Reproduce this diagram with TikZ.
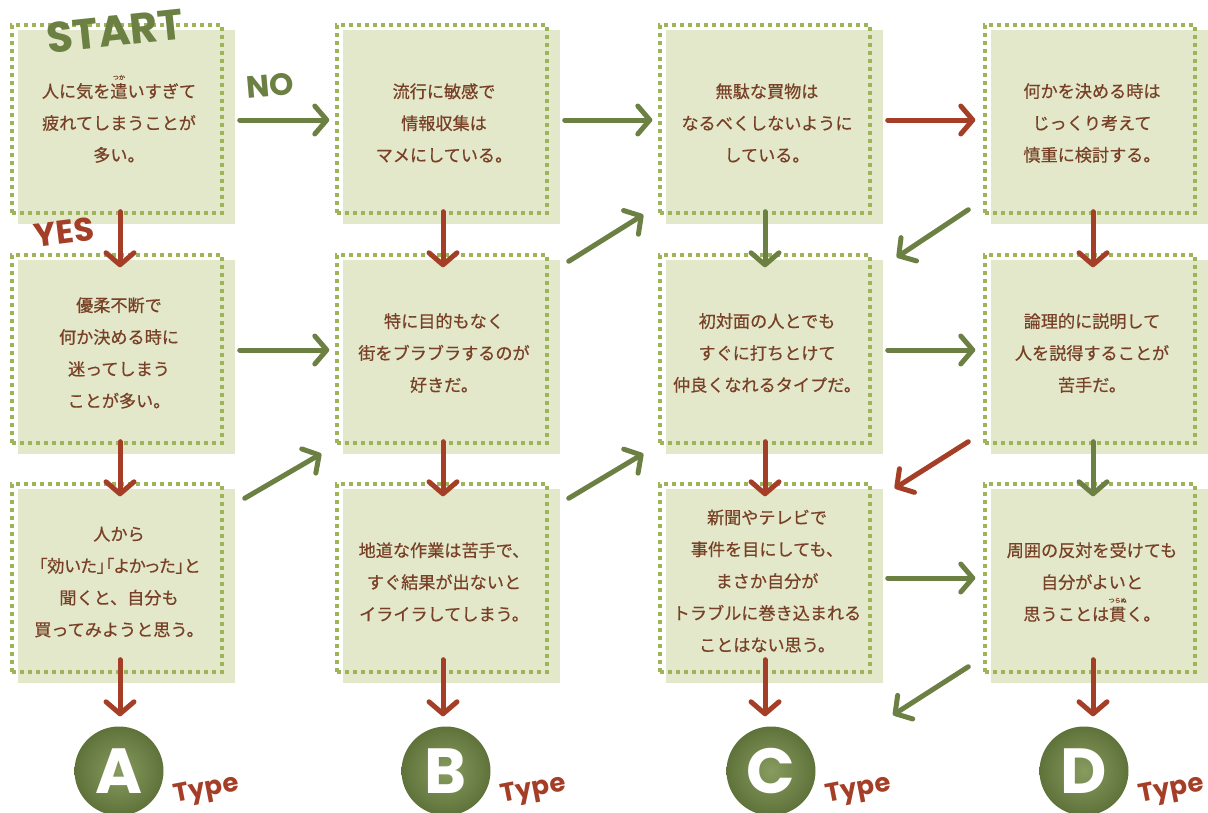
\documentclass[tikz,border=0pt]{standalone}
\usepackage{fontspec}
\setmainfont{Noto Sans CJK JP}[FakeBold=0.5]
\newfontfamily\latinfont{Poppins}
\usetikzlibrary{arrows.meta,backgrounds}
\definecolor{boxfill}{RGB}{226,232,201}
\definecolor{dotcol}{RGB}{158,180,88}
\definecolor{leafgreen}{RGB}{108,128,68}
\definecolor{rust}{RGB}{165,62,38}
\definecolor{inkbrown}{RGB}{120,64,38}
\definecolor{ballhi}{RGB}{136,156,96}
\definecolor{balllo}{RGB}{94,114,58}
\newcommand\furigana[2]{\leavevmode\ooalign{#1\cr\hidewidth\raisebox{1.05em}{\fontsize{6}{6}\selectfont #2}\hidewidth\cr}}
\begin{document}
\begin{tikzpicture}[x=1bp,y=-1bp,>={Straight Barb[length=12bp,width=28bp,round]},
  qbox/.style={draw=dotcol,line width=3.4bp,dash pattern=on 4bp off 4bp,minimum width=210bp,minimum height=188bp,inner sep=0pt},
  qtext/.style={inner sep=0pt,align=center,text=inkbrown,font=\fontsize{17.2}{32}\selectfont},
  goarrow/.style={->,line width=5bp,line cap=round,leafgreen},
  yesarrow/.style={->,line width=5bp,line cap=round,rust},
  typeball/.style={circle,minimum size=89bp,inner sep=0pt,inner color=ballhi,outer color=balllo,text=white,font=\latinfont\bfseries\fontsize{64}{64}\selectfont},
  typetag/.style={rust,rotate=11,font=\latinfont\bfseries\fontsize{26}{26}\selectfont},
  bigword/.style={font=\latinfont\bfseries\fontsize{#1}{#1}\selectfont},
  ]
  \useasboundingbox (0,0) rectangle (1208,813);
%%
  % Node: column A
  \node[qbox] (a1) at (117,119) {};
  \node[qbox] (a2) at (117,349) {};
  \node[qbox] (a3) at (117,578) {};
  % Node: column B
  \node[qbox] (b1) at (442,119) {};
  \node[qbox] (b2) at (442,349) {};
  \node[qbox] (b3) at (442,578) {};
  % Node: column C
  \node[qbox] (c1) at (765,119) {};
  \node[qbox] (c2) at (765,349) {};
  \node[qbox] (c3) at (765,578) {};
  % Node: column D
  \node[qbox] (d1) at (1090,119) {};
  \node[qbox] (d2) at (1090,349) {};
  \node[qbox] (d3) at (1090,578) {};
\begin{scope}[on background layer]
  \foreach \n in {a1,a2,a3,b1,b2,b3,c1,c2,c3,d1,d2,d3}
    \fill[boxfill] ([shift={(8,7)}]\n.north west) rectangle ([shift={(11,9)}]\n.south east);
\end{scope}
  % Node: questions
  \node[qtext] (a1q) at ([shift={(2,4)}]a1.center) {人に気を\furigana{遣}{つか}いすぎて\\疲れてしまうことが\\多い。};
  \node[qtext] (a2q) at ([shift={(2,4)}]a2.center) {優柔不断で\\何か決める時に\\迷ってしまう\\ことが多い。};
  \node[qtext] (a3q) at ([shift={(2,4)}]a3.center) {人から\\{\addfontfeatures{RawFeature=+palt}「効いた」「よかった」と}\\聞くと、自分も\\買ってみようと思う。};
  \node[qtext] (b1q) at ([shift={(2,4)}]b1.center) {流行に敏感で\\情報収集は\\マメにしている。};
  \node[qtext] (b2q) at ([shift={(2,4)}]b2.center) {特に目的もなく\\街をブラブラするのが\\好きだ。};
  \node[qtext] (b3q) at ([shift={(2,4)}]b3.center) {地道な作業は苦手で、\\すぐ結果が出ないと\\イライラしてしまう。};
  \node[qtext] (c1q) at ([shift={(2,4)}]c1.center) {無駄な買物は\\なるべくしないように\\している。};
  \node[qtext] (c2q) at ([shift={(2,4)}]c2.center) {初対面の人とでも\\すぐに打ちとけて\\仲良くなれるタイプだ。};
  \node[qtext] (c3q) at ([shift={(2,3)}]c3.center) {新聞やテレビで\\事件を目にしても、\\まさか自分が\\トラブルに巻き込まれる\\ことはない思う。};
  \node[qtext] (d1q) at ([shift={(2,4)}]d1.center) {何かを決める時は\\じっくり考えて\\慎重に検討する。};
  \node[qtext] (d2q) at ([shift={(2,4)}]d2.center) {論理的に説明して\\人を説得することが\\苦手だ。};
  \node[qtext] (d3q) at ([shift={(2,4)}]d3.center) {周囲の反対を受けても\\自分がよいと\\思うことは\furigana{貫}{つらぬ}く。};
  % Node: results
  \node[typeball] (typeA) at (119,771) {A};
  \node[typeball] (typeB) at (446,771) {B};
  \node[typeball] (typeC) at (771,771) {C};
  \node[typeball] (typeD) at (1084,771) {D};
  \foreach \t in {A,B,C,D}
    \node[typetag] (tag\t) at ([shift={(43,20)}]type\t.east) {Type};
  \coordinate (cback) at (893,715);
  % Node: labels
  \node[bigword=43,leafgreen,rotate=6] (start) at (115,31) {START};
  \node[bigword=31,leafgreen,rotate=5] (nolabel) at (270,86) {NO};
  \node[bigword=33,rust,rotate=7] (yeslabel) at (64,232) {YES};
%%
  % Edge: row 1
  \draw[goarrow] ([shift={(16,1)}]a1.east) -- ([shift={(-6,1)}]b1.west);
  \draw[goarrow] ([shift={(16,1)}]b1.east) -- ([shift={(-6,1)}]c1.west);
  \draw[yesarrow] ([shift={(16,1)}]c1.east) -- ([shift={(-8,1)}]d1.west);
  % Edge: row 2
  \draw[goarrow] ([shift={(16,1)}]a2.east) -- ([shift={(-6,1)}]b2.west);
  \draw[goarrow] ([shift={(16,1)}]c2.east) -- ([shift={(-8,1)}]d2.west);
  % Edge: row 3
  \draw[goarrow] ([shift={(16,0)}]c3.east) -- ([shift={(-8,0)}]d3.west);
  % Edge: downwards
  \draw[yesarrow] ([shift={(3,-3)}]a1.south) -- ([shift={(3,14)}]a2.north);
  \draw[yesarrow] ([shift={(1,-3)}]b1.south) -- ([shift={(1,14)}]b2.north);
  \draw[goarrow] ([shift={(0,-3)}]c1.south) -- ([shift={(0,14)}]c2.north);
  \draw[yesarrow] ([shift={(3,-3)}]d1.south) -- ([shift={(3,14)}]d2.north);
  \draw[yesarrow] ([shift={(3,-3)}]a2.south) -- ([shift={(3,14)}]a3.north);
  \draw[yesarrow] ([shift={(1,-3)}]b2.south) -- ([shift={(1,14)}]b3.north);
  \draw[yesarrow] ([shift={(0,-3)}]c2.south) -- ([shift={(0,14)}]c3.north);
  \draw[goarrow] ([shift={(3,-3)}]d2.south) -- ([shift={(3,14)}]d3.north);
  % Edge: diagonals
  \draw[goarrow] ([shift={(20,8)}]b2.north east) -- ([shift={(-15,0)}]c1.south west);
  \draw[goarrow] ([shift={(-15,-5)}]d1.south west) -- ([shift={(25,4)}]c2.north east);
  \draw[goarrow] ([shift={(21,16)}]a3.north east) -- ([shift={(-14,9)}]b2.south west);
  \draw[goarrow] ([shift={(20,16)}]b3.north east) -- ([shift={(-15,9)}]c2.south west);
  \draw[yesarrow] ([shift={(-15,-3)}]d2.south west) -- ([shift={(23,6)}]c3.north east);
  \draw[goarrow] ([shift={(-15,-7)}]d3.south west) -- (cback);
  % Edge: to results
  \draw[yesarrow] ([shift={(3,-14)}]a3.south) -- ([shift={(3,-10)}]a3.south |- typeA.north);
  \draw[yesarrow] ([shift={(1,-14)}]b3.south) -- ([shift={(1,-10)}]b3.south |- typeB.north);
  \draw[yesarrow] ([shift={(0,-14)}]c3.south) -- ([shift={(0,-10)}]c3.south |- typeC.north);
  \draw[yesarrow] ([shift={(3,-14)}]d3.south) -- ([shift={(3,-10)}]d3.south |- typeD.north);
%
\end{tikzpicture}
\end{document}
